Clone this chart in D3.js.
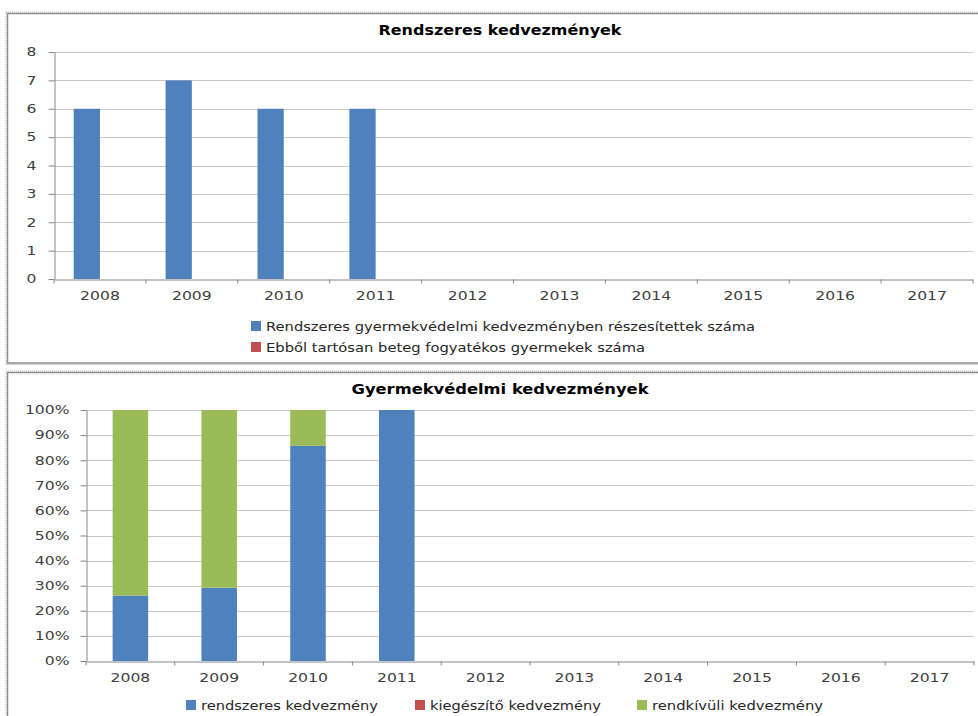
<!DOCTYPE html>
<html>
<head>
<meta charset="utf-8">
<script src="https://cdn.jsdelivr.net/npm/d3@7"></script>
<style>
  body { margin: 0; background: #fff; }
  svg { display: block; font-family: "DejaVu Sans", sans-serif; }
  .tick text { fill: #404040; }
</style>
</head>
<body>
<svg id="chart" width="978" height="716"></svg>
<script>
// Data
const years = ["2008", "2009", "2010", "2011", "2012", "2013", "2014", "2015", "2016", "2017"];

// Top chart: counts
const topTitle = "Rendszeres kedvezmények";
const topSeriesNames = [
  "Rendszeres gyermekvédelmi kedvezményben részesítettek száma",
  "Ebből tartósan beteg fogyatékos gyermekek száma",
];
const topRendszeres = [6, 7, 6, 6, 0, 0, 0, 0, 0, 0];
const topTartosan = [0, 0, 0, 0, 0, 0, 0, 0, 0, 0];
const topTicks = [0, 1, 2, 3, 4, 5, 6, 7, 8];

// Bottom chart: 100% stacked
const bottomTitle = "Gyermekvédelmi kedvezmények";
const bottomSeriesNames = ["rendszeres kedvezmény", "kiegészítő kedvezmény", "rendkívüli kedvezmény"];
const bottomRendszeres = [6, 7, 6, 6, 0, 0, 0, 0, 0, 0];
const bottomKiegeszito = [0, 0, 0, 0, 0, 0, 0, 0, 0, 0];
const bottomRendkivuli = [17, 17, 1, 0, 0, 0, 0, 0, 0, 0];
const percentTicks = [0, 0.1, 0.2, 0.3, 0.4, 0.5, 0.6, 0.7, 0.8, 0.9, 1];

const colors = ["#4f81bd", "#c0504d", "#9bbb59"];

const svg = d3.select("#chart");

// Panel frames
function frame(x, y, w, h) {
  svg.append("rect")
    .attr("x", x).attr("y", y).attr("width", w).attr("height", h)
    .attr("fill", "#fff").attr("stroke", "#8c8c8c").attr("stroke-width", 1.5);
  svg.append("rect")
    .attr("x", x - 1.5).attr("y", y - 1.5).attr("width", w + 3).attr("height", h + 3)
    .attr("fill", "none").attr("stroke", "#b0b0b0").attr("stroke-width", 1)
    .attr("stroke-dasharray", "1,1");
}
frame(7.5, 13.5, 972, 349.5);
frame(7.5, 372.5, 972, 360);

function title(text, cx, cy, len) {
  svg.append("text")
    .attr("x", cx).attr("y", cy).attr("dy", "0.35em")
    .attr("text-anchor", "middle")
    .attr("font-size", 14).attr("font-weight", "bold").attr("fill", "#000")
    .attr("textLength", len).attr("lengthAdjust", "spacingAndGlyphs")
    .text(text);
}

function legendItem(x, y, color, text, len) {
  svg.append("rect")
    .attr("x", x).attr("y", y - 5).attr("width", 10).attr("height", 10)
    .attr("fill", color);
  svg.append("text")
    .attr("x", x + 15).attr("y", y).attr("dy", "0.35em")
    .attr("font-size", 13).attr("fill", "#262626")
    .attr("textLength", len).attr("lengthAdjust", "spacingAndGlyphs")
    .text(text);
}

// The reference font is drawn wider than ours, stretch tick labels a bit
function widenTicks(gAxis) {
  gAxis.selectAll(".tick text").each(function () {
    const w = this.getComputedTextLength();
    d3.select(this).attr("textLength", w * 1.3).attr("lengthAdjust", "spacingAndGlyphs");
  });
}

function styleAxes(gX, gY) {
  gX.select(".domain").attr("stroke", "#868686");
  gX.selectAll(".tick line").attr("stroke", "#868686");
  gY.select(".domain").attr("stroke", "#868686");
  gY.selectAll(".tick line").attr("stroke", "#868686");
  widenTicks(gX);
  widenTicks(gY);
}

// Top chart: clustered columns
function renderTop() {
  const left = 54, right = 973, top = 52, bottom = 279;
  const x = d3.scaleBand().domain(years).range([left, right]).paddingInner(0).paddingOuter(0);
  const y = d3.scaleLinear().domain([0, 8]).range([bottom, top]);
  const x1 = d3.scaleBand().domain([0, 1]).range([0, x.bandwidth() * 2 / 3.5]);
  const g = svg.append("g");

  g.append("g").selectAll("line")
    .data(topTicks.slice(1))
    .join("line")
    .attr("x1", left).attr("x2", right)
    .attr("y1", (d) => Math.round(y(d)) + 0.5).attr("y2", (d) => Math.round(y(d)) + 0.5)
    .attr("stroke", "#c8c8c8");

  const series = [topRendszeres, topTartosan];
  series.forEach((vals, i) => {
    g.append("g").selectAll("rect")
      .data(years.map((yr, j) => ({ yr, v: vals[j] })))
      .join("rect")
      .attr("x", (d) => x(d.yr) + x.bandwidth() * 0.75 / 3.5 + x1(i))
      .attr("y", (d) => y(d.v))
      .attr("width", x1.bandwidth())
      .attr("height", (d) => y(0) - y(d.v))
      .attr("fill", colors[i]);
  });

  const gX = g.append("g")
    .attr("transform", `translate(0,${bottom + 0.5})`)
    .call(d3.axisBottom(x).tickSize(0).tickPadding(12))
    .attr("font-size", 12).attr("font-family", null);
  gX.append("g").selectAll("line")
    .data(d3.range(years.length + 1))
    .join("line")
    .attr("x1", (d) => left + d * x.bandwidth()).attr("x2", (d) => left + d * x.bandwidth())
    .attr("y1", 0).attr("y2", 4)
    .attr("stroke", "#868686");

  const gY = g.append("g")
    .attr("transform", `translate(${left + 0.5},0)`)
    .call(d3.axisLeft(y).tickValues(topTicks).tickSize(6).tickPadding(12).tickSizeOuter(0))
    .attr("font-size", 12).attr("font-family", null);
  styleAxes(gX, gY);

  title(topTitle, 500, 30, 243);
  legendItem(251, 326, colors[0], topSeriesNames[0], 489);
  legendItem(251, 347, colors[1], topSeriesNames[1], 379);
}

// Bottom chart: 100% stacked columns
function renderBottom() {
  const left = 86, right = 974, top = 410, bottom = 661;
  const x = d3.scaleBand().domain(years).range([left, right]).paddingInner(0.6).paddingOuter(0.3);
  const y = d3.scaleLinear().domain([0, 1]).range([bottom, top]);
  const g = svg.append("g");

  const rows = years.map((yr, j) => ({
    yr,
    a: bottomRendszeres[j],
    b: bottomKiegeszito[j],
    c: bottomRendkivuli[j],
  }));
  const stack = d3.stack().keys(["a", "b", "c"]).offset(d3.stackOffsetExpand);
  const stacked = stack(rows);

  g.append("g").selectAll("line")
    .data(percentTicks.slice(1))
    .join("line")
    .attr("x1", left).attr("x2", right)
    .attr("y1", (d) => Math.round(y(d)) + 0.5).attr("y2", (d) => Math.round(y(d)) + 0.5)
    .attr("stroke", "#c8c8c8");

  g.append("g").selectAll("g")
    .data(stacked)
    .join("g")
    .attr("fill", (d, i) => colors[i])
    .selectAll("rect")
    .data((d) => d.filter((p) => !isNaN(p[1]) && p[1] > p[0]))
    .join("rect")
    .attr("x", (d) => x(d.data.yr))
    .attr("y", (d) => y(d[1]))
    .attr("width", x.bandwidth())
    .attr("height", (d) => y(d[0]) - y(d[1]));

  const band = (right - left) / years.length;
  const gX = g.append("g")
    .attr("transform", `translate(0,${bottom + 0.5})`)
    .call(d3.axisBottom(x).tickSize(0).tickPadding(12))
    .attr("font-size", 12).attr("font-family", null);
  gX.append("g").selectAll("line")
    .data(d3.range(years.length + 1))
    .join("line")
    .attr("x1", (d) => left + d * band).attr("x2", (d) => left + d * band)
    .attr("y1", 0).attr("y2", 4)
    .attr("stroke", "#868686");

  const gY = g.append("g")
    .attr("transform", `translate(${left + 0.5},0)`)
    .call(d3.axisLeft(y).tickValues(percentTicks).tickFormat(d3.format(".0%")).tickSize(6).tickPadding(11).tickSizeOuter(0))
    .attr("font-size", 12).attr("font-family", null);
  styleAxes(gX, gY);

  title(bottomTitle, 500, 389, 297);
  legendItem(186, 705, colors[0], bottomSeriesNames[0], 177);
  legendItem(415, 705, colors[1], bottomSeriesNames[1], 171);
  legendItem(637, 705, colors[2], bottomSeriesNames[2], 171);
}

renderTop();
renderBottom();
</script>
</body>
</html>
